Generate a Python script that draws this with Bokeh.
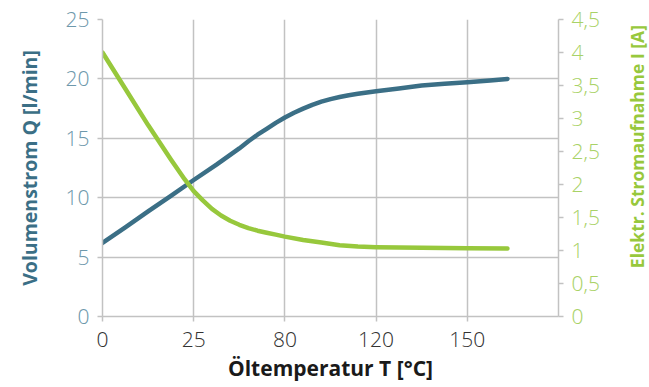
from bokeh.plotting import figure
from bokeh.layouts import row
from bokeh.models import Range1d, LinearAxis, FixedTicker, Label
from bokeh.embed import file_html
from bokeh.resources import INLINE

# x tick labels (temperatures drawn at equal spacing)
temp_labels = ["0", "25", "80", "120", "150"]
temp_pos = [0, 1, 2, 3, 4]

# Volumenstrom Q [l/min] (left axis)
q_pos = [0, 0.25, 0.5, 0.75, 1, 1.25, 1.5, 1.6, 1.7, 1.8, 1.9, 2, 2.1, 2.2, 2.3, 2.4, 2.5,
         2.6, 2.7, 2.8, 2.9, 3, 3.25, 3.5, 3.75, 4, 4.25, 4.44]
q_val = [6.2, 7.5, 8.85, 10.15, 11.49, 12.78, 14.15, 14.75, 15.3, 15.8, 16.3, 16.75, 17.15,
         17.5, 17.82, 18.08, 18.3, 18.48, 18.63, 18.75, 18.86, 18.96, 19.2, 19.44, 19.6,
         19.72, 19.87, 20.0]

# Elektr. Stromaufnahme I [A] (right axis)
i_pos = [0, 0.25, 0.5, 0.75, 0.9, 1.0, 1.1, 1.2, 1.3, 1.4, 1.5, 1.6, 1.7, 1.8, 1.9, 2,
         2.2, 2.4, 2.6, 2.8, 3, 3.5, 4, 4.44]
i_val = [4.0, 3.45, 2.9, 2.38, 2.08, 1.9, 1.76, 1.63, 1.53, 1.45, 1.39, 1.34, 1.3, 1.27,
         1.24, 1.21, 1.16, 1.12, 1.08, 1.06, 1.05, 1.04, 1.035, 1.03]

left_ticks = [0, 5, 10, 15, 20, 25]
right_ticks = [0, 0.5, 1, 1.5, 2, 2.5, 3, 3.5, 4, 4.5]
right_labels = ["0", "0,5", "1", "1,5", "2", "2,5", "3", "3,5", "4", "4,5"]

BLUE = "#3b6f86"
GREEN = "#97c83c"
GRAY = "#c2c2c2"
BLUE_LBL = "#6d98ab"
GREEN_LBL = "#a9d267"

p = figure(width=609, height=387, output_backend="svg", toolbar_location=None,
           x_range=Range1d(0, 5), y_range=Range1d(0, 25),
           min_border_left=102, min_border_right=51, min_border_top=19, min_border_bottom=71)
p.outline_line_color = None
p.background_fill_color = "white"
p.border_fill_color = "white"
p.extra_y_ranges = {"amp": Range1d(0, 4.5)}

# axes
xa = p.xaxis[0]
xa.ticker = FixedTicker(ticks=temp_pos)
xa.major_label_overrides = {pos: lab for pos, lab in zip(temp_pos, temp_labels)}
xa.axis_label = "Öltemperatur T [°C]"

ya = p.yaxis[0]
ya.ticker = FixedTicker(ticks=left_ticks)
ya.axis_label = "Volumenstrom Q [l/min]"

ra = LinearAxis(y_range_name="amp", ticker=FixedTicker(ticks=right_ticks),
                major_label_overrides={t: l for t, l in zip(right_ticks, right_labels)})
p.add_layout(ra, "right")

for ax in (xa, ya, ra):
    ax.axis_line_color = GRAY
    ax.axis_line_width = 1.5
    ax.major_tick_line_color = GRAY
    ax.major_tick_line_width = 1.5
    ax.major_tick_in = 0
    ax.major_tick_out = 5
    ax.minor_tick_line_color = None
    ax.major_label_text_font = "Open Sans Light"
    ax.major_label_text_font_size = "21px"
    ax.axis_label_text_font = "Open Sans"
    ax.axis_label_text_font_style = "bold"
    ax.axis_label_text_font_size = "19.5px"

xa.major_label_text_color = "#333333"
xa.axis_label_text_color = "#1a1a1a"
xa.axis_label_text_font_size = "21px"
xa.major_label_standoff = 10
xa.axis_label_standoff = 4
ya.major_label_text_color = BLUE_LBL
ya.axis_label_text_color = BLUE
ya.major_label_standoff = 8
ya.axis_label_standoff = 20
ra.major_label_text_color = GREEN_LBL
ra.major_label_standoff = 8

p.xgrid.ticker = FixedTicker(ticks=temp_pos)
p.ygrid.ticker = FixedTicker(ticks=left_ticks)
for g in (p.xgrid[0], p.ygrid[0]):
    g.grid_line_color = GRAY
    g.grid_line_width = 1.5

p.line(q_pos, q_val, line_color=BLUE, line_width=4.5, line_cap="round", line_join="round")
p.line(i_pos, i_val, line_color=GREEN, line_width=4.5, line_cap="round", line_join="round",
       y_range_name="amp")

# narrow strip holding the right axis title, reading bottom-to-top
t = figure(width=40, height=387, output_backend="svg", toolbar_location=None,
           x_range=Range1d(0, 1), y_range=Range1d(0, 1), x_axis_type=None, y_axis_type=None,
           min_border_left=0, min_border_right=0, min_border_top=0, min_border_bottom=0)
t.outline_line_color = None
t.background_fill_color = "white"
t.border_fill_color = "white"
t.grid.visible = False
t.add_layout(Label(x=0.68, y=0.572, text="Elektr. Stromaufnahme I [A]",
                   angle=90, angle_units="deg", text_align="center", text_baseline="middle",
                   text_font="Open Sans", text_font_style="bold", text_font_size="17.5px",
                   text_color=GREEN))

layout = row(p, t, spacing=0)
open("out.html", "w").write(file_html(layout, INLINE))
